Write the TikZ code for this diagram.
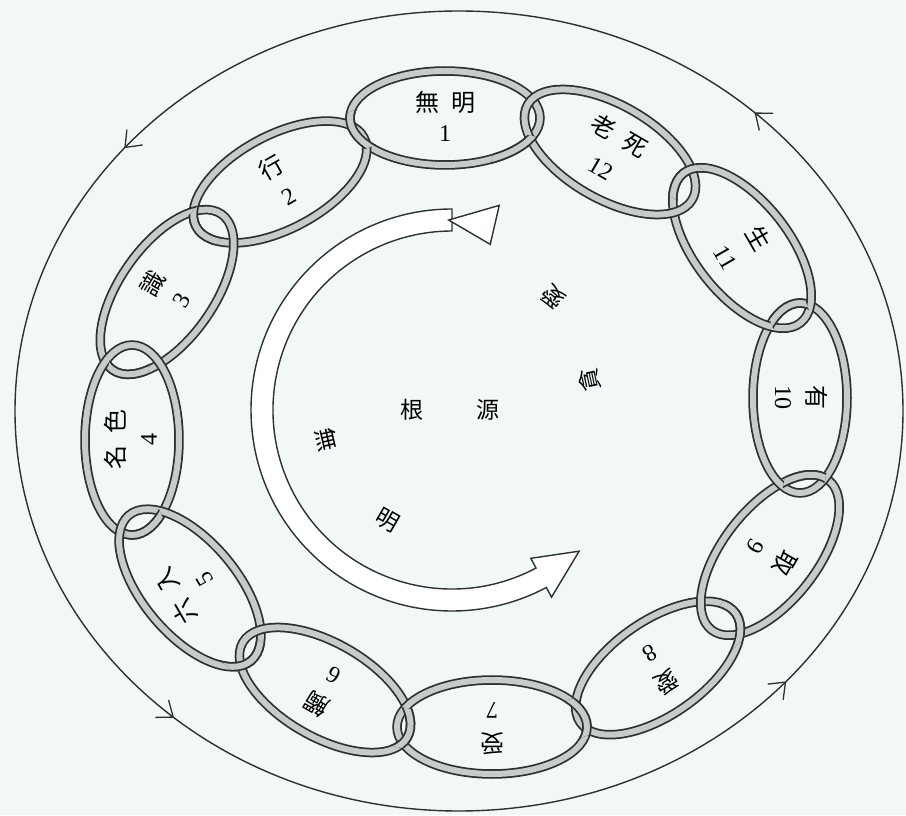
\documentclass[tikz,border=0pt]{standalone}
\usepackage{fontspec}
\newfontfamily\cjk{Noto Sans CJK JP}
\newfontfamily\digits{Liberation Serif}
\usetikzlibrary{calc,decorations.markings,arrows.meta}
\definecolor{bg}{RGB}{242,247,247}
\definecolor{ink}{RGB}{45,50,48}
\definecolor{tubefill}{RGB}{198,204,200}
\tikzset{
  tubeouter/.style={draw=ink, line width=9.5pt},
  tubeinner/.style={draw=tubefill, line width=6pt},
  cjktext/.style={inner sep=0pt, font=\fontsize{24}{26}\selectfont\cjk},
  numtext/.style={inner sep=0pt, font=\fontsize{24}{26}\selectfont\digits},
  centertext/.style={inner sep=0pt, font=\fontsize{23}{26}\selectfont\cjk},
  ringline/.style={draw=ink, line width=1.4pt},
  bandline/.style={draw=ink, line width=1.4pt, fill=white, line join=miter},
  ringmark/.style={ink, line width=1.3pt},
}
\newcommand\tubelink[2]{%
  \draw[tubeouter] (#1) circle [x radius=95pt, y radius=47pt, rotate=#2];
  \draw[tubeinner] (#1) circle [x radius=95pt, y radius=47pt, rotate=#2];}
\newcommand\crossfix[3]{%
  \begin{scope}
    \coordinate (m) at ($(L#1)!0.5!(L#2)$);
    \coordinate (p1) at ($(m)!30pt!(L#1)$);
    \coordinate (p2) at ($(m)!30pt!(L#2)$);
    \clip (p1) -- ($(p1)!40pt!-90:(p2)$) -- ($(p2)!40pt!90:(p1)$) -- (p2) -- cycle;
    \tubelink{L#1}{#3}
  \end{scope}}
% label: k, rotation, cjk text, number, half separation
\newcommand\linklabel[5]{%
  \node[cjktext, rotate=#2] (c#1) at ($(L#1)+(#2+90:#5)$) {#3};
  \node[numtext, rotate=#2] (n#1) at ($(L#1)+(#2-90:#5)$) {#4};}
\begin{document}
\begin{tikzpicture}[x=1pt,y=1pt]
\useasboundingbox (0,0) rectangle (906,815);
\fill[bg] (0,0) rectangle (906,815);
% outer ring with direction marks
\draw[ringline, postaction={decorate}, decoration={markings,
  mark=at position 0.13 with {\arrow[ringmark]{Straight Barb[length=14pt,width=22pt]}},
  mark=at position 0.39 with {\arrow[ringmark]{Straight Barb[length=14pt,width=22pt]}},
  mark=at position 0.635 with {\arrow[ringmark]{Straight Barb[length=14pt,width=22pt]}},
  mark=at position 0.886 with {\arrow[ringmark]{Straight Barb[length=14pt,width=22pt]}}}]
  (459,404) ellipse [x radius=444pt, y radius=400pt];
% link centres
\coordinate (L1) at (445,697);
\coordinate (L2) at (280,633);
\coordinate (L3) at (167,523);
\coordinate (L4) at (132,375);
\coordinate (L5) at (190,227);
\coordinate (L6) at (325,125);
\coordinate (L7) at (492,88);
\coordinate (L8) at (658,147);
\coordinate (L9) at (770,260);
\coordinate (L10) at (800,417);
\coordinate (L11) at (742,567);
\coordinate (L12) at (610,663);
% links
\tubelink{L1}{0}
\tubelink{L2}{28}
\tubelink{L3}{55}
\tubelink{L4}{90}
\tubelink{L5}{-50}
\tubelink{L6}{-30}
\tubelink{L7}{0}
\tubelink{L8}{35}
\tubelink{L9}{52}
\tubelink{L10}{90}
\tubelink{L11}{-52}
\tubelink{L12}{-30}
% interlocking
\crossfix{1}{2}{0}
\crossfix{2}{3}{28}
\crossfix{3}{4}{55}
\crossfix{4}{5}{90}
\crossfix{5}{6}{-50}
\crossfix{6}{7}{-30}
\crossfix{7}{8}{0}
\crossfix{8}{9}{35}
\crossfix{9}{10}{52}
\crossfix{10}{11}{90}
\crossfix{11}{12}{-52}
\begin{scope}
  \coordinate (m) at ($(L12)!0.5!(L1)$);
  \coordinate (p1) at ($(m)!30pt!(L12)$);
  \coordinate (p2) at ($(m)!30pt!(L1)$);
  \clip (p1) -- ($(p1)!40pt!90:(p2)$) -- ($(p2)!40pt!-90:(p1)$) -- (p2) -- cycle;
  \tubelink{L1}{0}
\end{scope}
% link labels
\linklabel{1}{0}{無\hspace{0.5em}明}{1}{16}
\linklabel{2}{30}{行}{2}{17}
\linklabel{3}{60}{識}{3}{17}
\linklabel{4}{90}{名\hspace{0.5em}色}{4}{17}
\linklabel{5}{120}{六\hspace{0.5em}入}{5}{17}
\linklabel{6}{150}{觸}{6}{17}
\linklabel{7}{180}{受}{7}{17}
\linklabel{8}{210}{愛}{8}{17}
\linklabel{9}{240}{取}{9}{17}
\linklabel{10}{270}{有}{10}{17}
\linklabel{11}{300}{生}{11}{19}
\linklabel{12}{330}{老\hspace{0.5em}死}{12}{19}
% inner hollow arrow band
\begin{scope}[shift={(452,405)}]
  \draw[bandline] (90:201) arc[start angle=90, end angle=298, radius=201]
    -- (298:212) -- (312:190) -- (298:168) -- (298:179)
    arc[start angle=298, end angle=90, radius=179] -- cycle;
  \draw[bandline] (77:201) -- (77:210) -- (91:190) -- (77:170) -- (77:179) -- cycle;
\end{scope}
% inner texts
\node[centertext] (gen) at (412,405) {根};
\node[centertext] (src) at (488,405) {源};
\node[centertext, rotate=-77] (mu) at (327,375) {無};
\node[centertext, rotate=-30] (mei) at (388,295) {明};
\node[centertext, rotate=138] (ai) at (553,518) {愛};
\node[centertext, rotate=102] (ton) at (590,435) {貪};
\end{tikzpicture}
\end{document}
